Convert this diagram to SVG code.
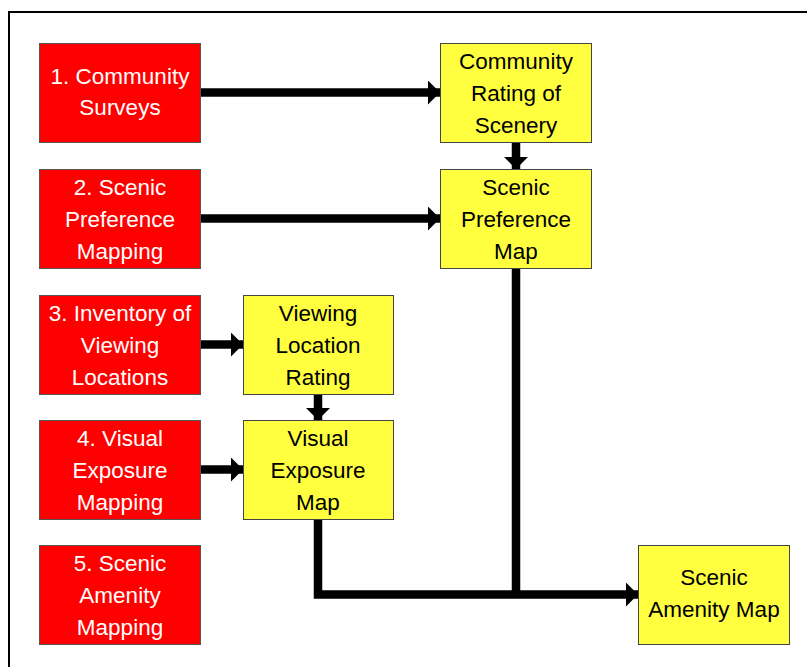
<svg xmlns="http://www.w3.org/2000/svg" width="807" height="667" viewBox="0 0 807 667">
<style>
.red rect{fill:#ff0000;stroke:#555;stroke-width:1}
.yel rect{fill:#ffff40;stroke:#444;stroke-width:1}
text{font-family:"Liberation Sans",Arial,sans-serif;font-size:22.5px;text-anchor:middle}
.red text{fill:#fff}
.yel text{fill:#000}
.conn path{fill:none;stroke:#000;stroke-width:8.5;stroke-linejoin:miter}
</style>
<defs>
<marker id="ah" viewBox="0 0 12 24" refX="12" refY="12" markerWidth="12" markerHeight="24" markerUnits="userSpaceOnUse" orient="auto">
<path d="M0,0 L12,12 L0,24 Z" fill="#000"/>
</marker>
</defs>
<rect x="9" y="12" width="810" height="670" fill="none" stroke="#000" stroke-width="2"/>
<g class="conn">
<path d="M200,92.5 H440" marker-end="url(#ah)"/>
<path d="M200,218.5 H440" marker-end="url(#ah)"/>
<path d="M200,344.5 H243" marker-end="url(#ah)"/>
<path d="M200,469.5 H243" marker-end="url(#ah)"/>
<path d="M516,142 V169" marker-end="url(#ah)"/>
<path d="M318,394 V420" marker-end="url(#ah)"/>
<path d="M318,519 V594.5 H638" marker-end="url(#ah)"/>
<path d="M516,268 V594.5"/>
</g>
<g id="n1" class="red"><rect x="39.5" y="43.5" width="161" height="99"/><text x="120" y="83.5">1. Community</text><text x="120" y="115">Surveys</text></g>
<g id="n2" class="red"><rect x="39.5" y="169.5" width="161" height="99"/><text x="120" y="195">2. Scenic</text><text x="120" y="227">Preference</text><text x="120" y="259">Mapping</text></g>
<g id="n3" class="red"><rect x="39.5" y="295.5" width="161" height="99"/><text x="120" y="321">3. Inventory of</text><text x="120" y="353">Viewing</text><text x="120" y="385">Locations</text></g>
<g id="n4" class="red"><rect x="39.5" y="420.5" width="161" height="99"/><text x="120" y="446">4. Visual</text><text x="120" y="478">Exposure</text><text x="120" y="510">Mapping</text></g>
<g id="n5" class="red"><rect x="39.5" y="545.5" width="161" height="99"/><text x="120" y="571">5. Scenic</text><text x="120" y="603">Amenity</text><text x="120" y="635">Mapping</text></g>
<g id="y1" class="yel"><rect x="440.5" y="43.5" width="151" height="99"/><text x="516" y="69">Community</text><text x="516" y="101">Rating of</text><text x="516" y="133">Scenery</text></g>
<g id="y2" class="yel"><rect x="440.5" y="169.5" width="151" height="99"/><text x="516" y="195">Scenic</text><text x="516" y="227">Preference</text><text x="516" y="259">Map</text></g>
<g id="y3" class="yel"><rect x="243.5" y="295.5" width="150" height="99"/><text x="318" y="321">Viewing</text><text x="318" y="353">Location</text><text x="318" y="385">Rating</text></g>
<g id="y4" class="yel"><rect x="243.5" y="420.5" width="150" height="99"/><text x="318" y="446">Visual</text><text x="318" y="478">Exposure</text><text x="318" y="510">Map</text></g>
<g id="y5" class="yel"><rect x="638.5" y="545.5" width="151" height="99"/><text x="714" y="585">Scenic</text><text x="714" y="617">Amenity Map</text></g>
</svg>
